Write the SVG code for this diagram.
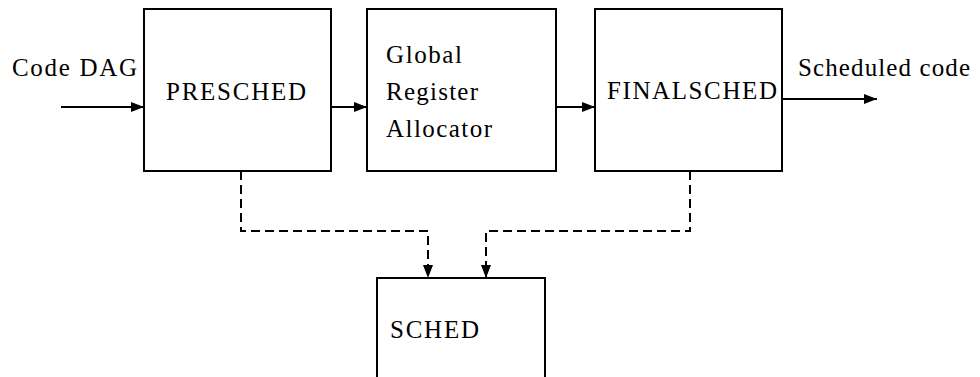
<svg xmlns="http://www.w3.org/2000/svg" width="980" height="377" viewBox="0 0 980 377">
  <style>
    .box { fill: none; stroke: #000; stroke-width: 2; }
    .flow { fill: none; stroke: #000; stroke-width: 2; marker-end: url(#arrow); }
    .dash { stroke-dasharray: 9 5; }
  </style>
  <defs>
    <marker id="arrow" markerUnits="userSpaceOnUse" markerWidth="14" markerHeight="10" refX="13" refY="5" orient="auto">
      <path d="M0,0 L13,5 L0,10 z" fill="#000"/>
    </marker>
  </defs>

  <rect width="980" height="377" fill="#fff"/>

  <g font-family="Liberation Serif, DejaVu Serif, serif" font-size="25" fill="#000">
    <!-- free labels -->
    <text x="12" y="76" textLength="125" lengthAdjust="spacing">Code DAG</text>
    <text x="798" y="76" textLength="172" lengthAdjust="spacing">Scheduled code</text>

    <g id="presched">
      <rect class="box" x="144" y="9" width="187" height="162"/>
      <text x="166" y="100" textLength="140" lengthAdjust="spacing">PRESCHED</text>
    </g>

    <g id="global-register-allocator">
      <rect class="box" x="367" y="9" width="189" height="162"/>
      <text x="386" y="63" textLength="76" lengthAdjust="spacing">Global</text>
      <text x="386" y="100" textLength="92" lengthAdjust="spacing">Register</text>
      <text x="386" y="137" textLength="106" lengthAdjust="spacing">Allocator</text>
    </g>

    <g id="finalsched">
      <rect class="box" x="595" y="9" width="187" height="162"/>
      <text x="607" y="99" textLength="170" lengthAdjust="spacing">FINALSCHED</text>
    </g>

    <g id="sched">
      <path class="box" d="M377,378 V278 H545 V378"/>
      <text x="390" y="338" textLength="89" lengthAdjust="spacing">SCHED</text>
    </g>
  </g>

  <g id="connectors">
    <path class="flow" d="M61,107 H144"/>
    <path class="flow" d="M331,107 H367"/>
    <path class="flow" d="M556,107 H595"/>
    <path class="flow" d="M782,99 H877"/>
    <path class="flow dash" d="M241,171 V231 H428 V278"/>
    <path class="flow dash" d="M690,171 V231 H486 V278"/>
  </g>
</svg>
